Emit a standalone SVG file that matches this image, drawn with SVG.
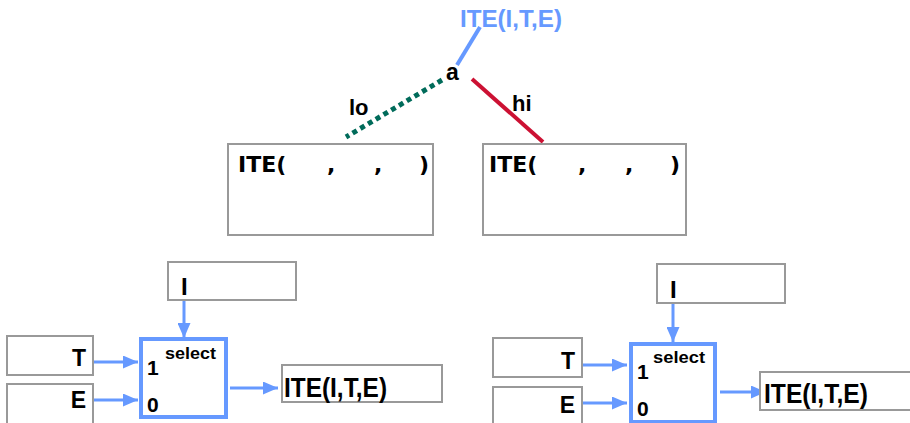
<svg xmlns="http://www.w3.org/2000/svg" width="910" height="423" viewBox="0 0 910 423">
  <style>
    .box { fill: #ffffff; stroke: #999999; stroke-width: 2; }
    .mux { fill: #ffffff; stroke: #6699ff; stroke-width: 4; }
    .t { font-family: "Liberation Sans", Arial, sans-serif; font-weight: bold; fill: #000000; }
    .v { font-family: "DejaVu Sans", Verdana, sans-serif; font-weight: bold; fill: #000000; font-size: 22px; }
    .wire { stroke: #6699ff; stroke-width: 3; fill: none; }
  </style>
  <defs>
    <marker id="arr" viewBox="0 0 15 13" refX="15" refY="6.5" markerWidth="15" markerHeight="13" markerUnits="userSpaceOnUse" orient="auto">
      <path d="M0,0 L15,6.5 L0,13 z" fill="#6699ff"/>
    </marker>
  </defs>

  <!-- root label -->
  <g id="root">
    <text class="t" x="460" y="27" font-size="23.5" style="fill:#6699ff" textLength="102" lengthAdjust="spacingAndGlyphs">ITE(I,T,E)</text>
    <text class="t" x="446" y="80" font-size="23">a</text>
  </g>

  <g id="connectors">
    <line x1="480" y1="27" x2="457" y2="65" stroke="#6699ff" stroke-width="4"/>
    <line x1="442" y1="80" x2="346" y2="137" stroke="#006b5a" stroke-width="5" stroke-dasharray="5 4"/>
    <line x1="472" y1="79" x2="543" y2="142" stroke="#cc1133" stroke-width="4"/>
    <text class="t" x="349" y="115" font-size="22">lo</text>
    <text class="t" x="512" y="111" font-size="22">hi</text>

    <!-- left mux wires -->
    <line class="wire" x1="184" y1="300" x2="184" y2="338" marker-end="url(#arr)"/>
    <line class="wire" x1="93" y1="362" x2="138" y2="362" marker-end="url(#arr)"/>
    <line class="wire" x1="93" y1="400" x2="138" y2="400" marker-end="url(#arr)"/>
    <line class="wire" x1="230" y1="388" x2="278" y2="388" marker-end="url(#arr)"/>

    <!-- right mux wires -->
    <line class="wire" x1="673" y1="303" x2="673" y2="342" marker-end="url(#arr)"/>
    <line class="wire" x1="582" y1="365" x2="627" y2="365" marker-end="url(#arr)"/>
    <line class="wire" x1="582" y1="403" x2="627" y2="403" marker-end="url(#arr)"/>
    <line class="wire" x1="720" y1="392" x2="766" y2="392" marker-end="url(#arr)"/>
  </g>

  <!-- cofactor boxes -->
  <g id="lo-box">
    <rect class="box" x="228" y="144" width="205" height="91"/>
    <text class="v" x="238" y="172">ITE(</text>
    <text class="v" x="327" y="172">,</text>
    <text class="v" x="374" y="172">,</text>
    <text class="v" x="419" y="172">)</text>
  </g>
  <g id="hi-box">
    <rect class="box" x="483" y="144" width="203" height="91"/>
    <text class="v" x="489" y="172">ITE(</text>
    <text class="v" x="578" y="172">,</text>
    <text class="v" x="625" y="172">,</text>
    <text class="v" x="670" y="172">)</text>
  </g>

  <!-- left multiplexer -->
  <g id="left-i">
    <rect class="box" x="168" y="262" width="128" height="38"/>
    <text class="t" x="181" y="295" font-size="24">I</text>
  </g>
  <g id="left-t">
    <rect class="box" x="7" y="336" width="86" height="39"/>
    <text class="t" x="86" y="366" font-size="23" text-anchor="end">T</text>
  </g>
  <g id="left-e">
    <rect class="box" x="7" y="384" width="86" height="45"/>
    <text class="t" x="86" y="408" font-size="23" text-anchor="end">E</text>
  </g>
  <g id="left-mux">
    <rect class="mux" x="141" y="339" width="85" height="78"/>
    <text class="t" x="165" y="359" font-size="17" textLength="51" lengthAdjust="spacingAndGlyphs">select</text>
    <text class="t" x="147" y="375" font-size="21">1</text>
    <text class="t" x="147" y="412" font-size="21">0</text>
  </g>
  <g id="left-out">
    <rect class="box" x="282" y="365" width="160" height="37"/>
    <text class="t" x="284" y="397" font-size="27" textLength="103" lengthAdjust="spacingAndGlyphs">ITE(I,T,E)</text>
  </g>

  <!-- right multiplexer -->
  <g id="right-i">
    <rect class="box" x="657" y="264" width="128" height="39"/>
    <text class="t" x="670" y="298" font-size="24">I</text>
  </g>
  <g id="right-t">
    <rect class="box" x="493" y="338" width="89" height="39"/>
    <text class="t" x="575" y="369" font-size="23" text-anchor="end">T</text>
  </g>
  <g id="right-e">
    <rect class="box" x="493" y="387" width="89" height="45"/>
    <text class="t" x="575" y="413" font-size="23" text-anchor="end">E</text>
  </g>
  <g id="right-mux">
    <rect class="mux" x="631" y="344" width="84" height="78"/>
    <text class="t" x="653" y="363" font-size="17" textLength="52" lengthAdjust="spacingAndGlyphs">select</text>
    <text class="t" x="637" y="379" font-size="21">1</text>
    <text class="t" x="637" y="416" font-size="21">0</text>
  </g>
  <g id="right-out">
    <rect class="box" x="760" y="372" width="160" height="38"/>
    <text class="t" x="764" y="403" font-size="27" textLength="104" lengthAdjust="spacingAndGlyphs">ITE(I,T,E)</text>
  </g>
</svg>
